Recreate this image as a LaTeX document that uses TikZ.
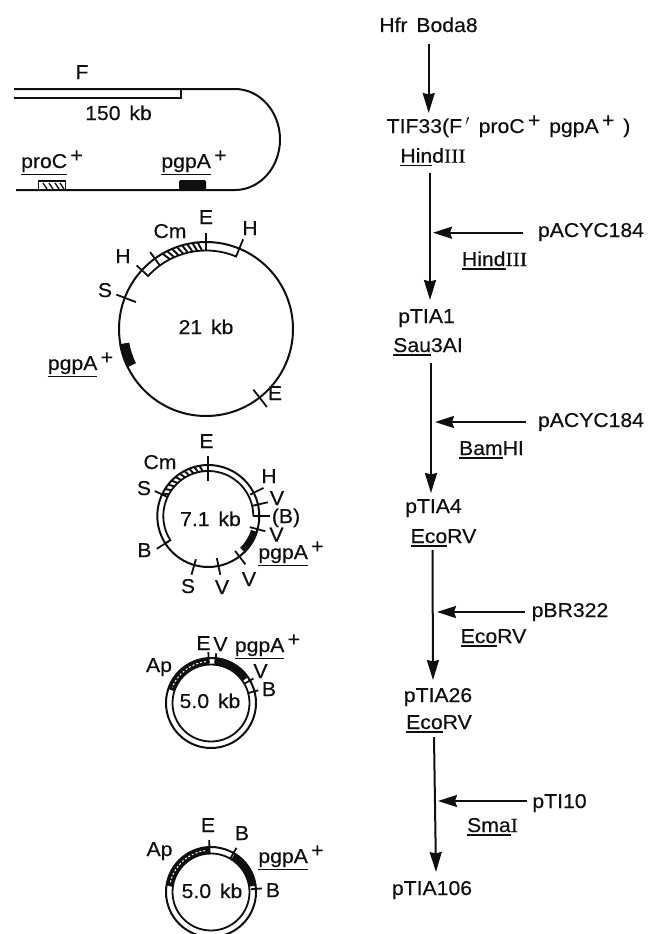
\documentclass[tikz,border=0pt]{standalone}
\usepackage{fontspec}
\setmainfont[FakeStretch=1.06,FakeBold=0.35,WordSpace=1.5]{Liberation Sans}
\newfontfamily\serf[FakeStretch=1.08,FakeBold=0.35]{Liberation Serif}
\usetikzlibrary{arrows.meta}
\newcommand{\ulb}[1]{\setbox0\hbox{#1}\rlap{\copy0}\rlap{\raisebox{-3.5pt}{\rule{\wd0}{1.3pt}}}\hskip\wd0\relax}
\newcommand{\ulg}[1]{\setbox0\hbox{#1}\rlap{\copy0}\rlap{\raisebox{-7pt}{\rule{\wd0}{1.3pt}}}\hskip\wd0\relax}
\newcommand{\gplus}{\raisebox{6pt}{+}}
\definecolor{ink}{gray}{0.06}
\tikzset{
  lab/.style={inner sep=0pt,anchor=base,font=\fontsize{20}{22}\selectfont,text=ink},
  mainarr/.style={line width=2pt,ink,-{Stealth[length=20pt,width=12pt,inset=1.5pt]}},
  sidearr/.style={line width=2pt,ink,-{Stealth[length=19pt,width=12pt,inset=2pt]}},
  ring/.style={line width=2pt,ink},
  thinring/.style={line width=1.8pt,ink},
  tick/.style={line width=1.8pt,ink},
  hatchline/.style={line width=1.3pt,ink},
}
\begin{document}
\begin{tikzpicture}[x=1pt,y=-1pt]
\useasboundingbox (0,0) rectangle (648,934);
% ---- F episome
\draw[ring] (14,89) -- (235,89) arc[start angle=-90,end angle=90,x radius=45,y radius=50.5] -- (16,190);
\draw[ring] (14,98) -- (181,98) -- (181,89);
\fill[ink,rounded corners=1.5pt] (179,190) -- (179,180) -- (206,180) -- (206,190) -- cycle;
\draw[line width=1.5pt,ink] (38.5,190) -- (38.5,181) -- (65.5,181) -- (65.5,190);
\foreach \x in {43,49,55,60}{\draw[hatchline] (\x,183) -- (\x+4,189);}
\node[lab] (f) at (82,79) {F};
\node[lab] (kb150) at (118.5,120) {150 kb};
\node[lab] (proc) at (52,168) {\ulg{proC}\,\gplus};
\node[lab] (pgpa0) at (194,168) {\ulg{pgpA}\,\gplus};
% ---- 21 kb
\begin{scope}[shift={(206,329)},yscale=-1]
\draw[ring] (0,0) circle[radius=87];
\draw[thinring] (137.5:94) -- (137.5:78.5) arc[start angle=137.5,end angle=67.5,radius=78.5] -- (67.5:97);
\draw[tick] (126:79) -- (126:95);
\draw[tick] (90:79) -- (90:96);
\draw[tick] (159:75) -- (159:96);
\draw[tick] (-52:77) -- (-52:99);
\foreach \a in {93,96.5,...,118}{\draw[hatchline,line width=1.9pt] (\a:79) -- (\a+2.5:87);}
\fill[ink] (190:78) arc[start angle=190,end angle=206,radius=78] -- (206:88) arc[start angle=206,end angle=190,radius=88] -- cycle;
\end{scope}
\node[lab] (e1) at (206,224) {E};
\node[lab] (h1) at (250,235) {H};
\node[lab] (cm1) at (170,238) {Cm};
\node[lab] (h2) at (123,263) {H};
\node[lab] (s1) at (105,297) {S};
\node[lab] (kb21) at (206,334) {21 kb};
\node[lab] (pgpa1) at (80.5,370) {\ulg{pgpA}\,\gplus};
\node[lab] (e2) at (275,400) {E};
% ---- 7.1 kb
\begin{scope}[shift={(208.3,516)},yscale=-1]
\draw[ring] (0,0) circle[radius=51];
\draw[thinring] (212.5:51) -- (212.5:45) arc[start angle=212.5,end angle=0,radius=45];
\foreach \a in {97,103,...,152}{\draw[hatchline,line width=1.9pt] (\a:45) -- (\a+3:51);}
\fill[ink] (-18:45) arc[start angle=-18,end angle=-45,radius=45] -- (-45:52) arc[start angle=-45,end angle=-18,radius=52] -- cycle;
\draw[tick] (90:35) -- (90:60);
\draw[tick] (155:45) -- (155:59);
\draw[tick] (27:47) -- (27:62);
\draw[tick] (13:45) -- (13:61);
\draw[tick] (0:45) -- (0:62);
\draw[tick] (-15:43) -- (-15:59);
\draw[tick] (-52.5:44) -- (-52.5:61);
\draw[tick] (-78.5:43) -- (-78.5:60);
\draw[tick] (-106:45) -- (-106:61);
\draw[tick] (212.5:45) -- (212.5:61);
\end{scope}
\node[lab] (e3) at (206.5,448) {E};
\node[lab] (cm2) at (160,469) {Cm};
\node[lab] (s2) at (144,495) {S};
\node[lab] (h3) at (269,483) {H};
\node[lab] (v1) at (277,505) {V};
\node[lab] (b1) at (286,523) {(B)};
\node[lab] (v2) at (276.5,541.5) {V};
\node[lab] (pgpa2) at (291,559) {\ulg{pgpA}\,\gplus};
\node[lab] (b2) at (144.5,557) {B};
\node[lab] (s3) at (188,593) {S};
\node[lab] (v3) at (222,594) {V};
\node[lab] (v4) at (249,586) {V};
\node[lab] (kb71) at (210.5,526) {7.1 kb};
% ---- 5.0 kb (upper)
\begin{scope}[shift={(211,703)},yscale=-1]
\draw[ring] (0,0) circle[radius=45];
\draw[thinring] (0,0) circle[radius=38.5];
\draw[ink,line width=6pt] (93:41.8) arc[start angle=93,end angle=162,radius=41.8];
\draw[white,line width=1pt,dash pattern=on 2pt off 2pt] (97:41.8) arc[start angle=97,end angle=158,radius=41.8];
\fill[ink] (85:38) arc[start angle=85,end angle=35,radius=38] -- (35:46) arc[start angle=35,end angle=85,radius=46] -- cycle;
\draw[tick] (93:40) -- (93:51);
\draw[tick] (84:40) -- (84:50);
\draw[tick] (30:38) -- (30:49);
\draw[tick] (15:38) -- (15:49);
\end{scope}
\node[lab] (e4) at (203.5,650) {E};
\node[lab] (v5) at (220.5,651) {V};
\node[lab] (pgpa3) at (267.5,652) {\ulg{pgpA}\,\gplus};
\node[lab] (ap1) at (159,672) {Ap};
\node[lab] (v6) at (260.5,678) {V};
\node[lab] (b3) at (269,696) {B};
\node[lab] (kb50a) at (210,708) {5.0 kb};
% ---- 5.0 kb (lower)
\begin{scope}[shift={(211,892)},yscale=-1]
\draw[ring] (0,0) circle[radius=45];
\draw[thinring] (0,0) circle[radius=38.5];
\draw[ink,line width=6pt] (92:41.8) arc[start angle=92,end angle=172,radius=41.8];
\draw[white,line width=1pt,dash pattern=on 2pt off 2pt] (98:41.8) arc[start angle=98,end angle=168,radius=41.8];
\fill[ink] (58:38) arc[start angle=58,end angle=8,radius=38] -- (8:46) arc[start angle=8,end angle=58,radius=46] -- cycle;
\draw[tick] (92:38) -- (92:52);
\draw[tick] (60:38) -- (60:51);
\draw[tick] (4:40) -- (4:51);
\end{scope}
\node[lab] (e5) at (208,832) {E};
\node[lab] (b4) at (242,840) {B};
\node[lab] (ap2) at (159.5,856) {Ap};
\node[lab] (pgpa4) at (291,863) {\ulg{pgpA}\,\gplus};
\node[lab] (kb50b) at (212,898) {5.0 kb};
\node[lab] (b5) at (273,897) {B};
% ---- right column
\node[lab] (hfr) at (428.5,32) {Hfr Boda8};
\node[lab] (tif) at (508.5,133) {TIF33(F\,$'$ proC\,\gplus\ pgpA\,\gplus\ )};
\node[lab] (hind1) at (433,162.7) {\ulb{Hin}d{\serf III}};
\node[lab] (pac1) at (591,237) {pACYC184};
\node[lab] (hind2) at (494.5,266) {\ulb{Hind}{\serf III}};
\node[lab] (tia1) at (426.5,323) {pTIA1};
\node[lab] (sau) at (428,352) {\ulb{Sau}3AI};
\node[lab] (pac2) at (591,427) {pACYC184};
\node[lab] (bam) at (491.5,455) {\ulb{Bam}HI};
\node[lab] (tia4) at (433.5,513) {pTIA4};
\node[lab] (eco1) at (443.5,543) {\ulb{Eco}RV};
\node[lab] (pbr) at (570,617) {pBR322};
\node[lab] (eco2) at (493.5,643) {\ulb{Eco}RV};
\node[lab] (tia26) at (438,702) {pTIA26};
\node[lab] (eco3) at (439,729) {\ulb{Eco}RV};
\node[lab] (ti10) at (559.5,808) {pTI10};
\node[lab] (sma) at (492.5,832) {\ulb{Sma}{\serf I}};
\node[lab] (tia106) at (432,895) {pTIA106};
% main arrows
\draw[mainarr] ([shift={(0.2,12)}]hfr.base) -- ([shift={(-79.8,-20)}]tif.base);
\draw[mainarr] ([shift={(-3,10.3)}]hind1.base) -- ([shift={(3.5,-23)}]tia1.base);
\draw[mainarr] ([shift={(3,11)}]sau.base) -- ([shift={(-2.5,-20)}]tia4.base);
\draw[mainarr] ([shift={(-11,7)}]eco1.base) -- ([shift={(-5,-22)}]tia26.base);
\draw[mainarr] ([shift={(-5,8)}]eco3.base) -- ([shift={(4,-23)}]tia106.base);
% side arrows
\coordinate (m1) at (433,232.7);
\coordinate (m2) at (435,422);
\coordinate (m3) at (437,612);
\coordinate (m4) at (438,801);
\draw[sidearr] ([shift={(-68,-4.3)}]pac1.base) -- (m1);
\draw[sidearr] ([shift={(-65,-5)}]pac2.base) -- (m2);
\draw[sidearr] ([shift={(-45,-5)}]pbr.base) -- (m3);
\draw[sidearr] ([shift={(-32.5,-7)}]ti10.base) -- (m4);
\end{tikzpicture}
\end{document}
